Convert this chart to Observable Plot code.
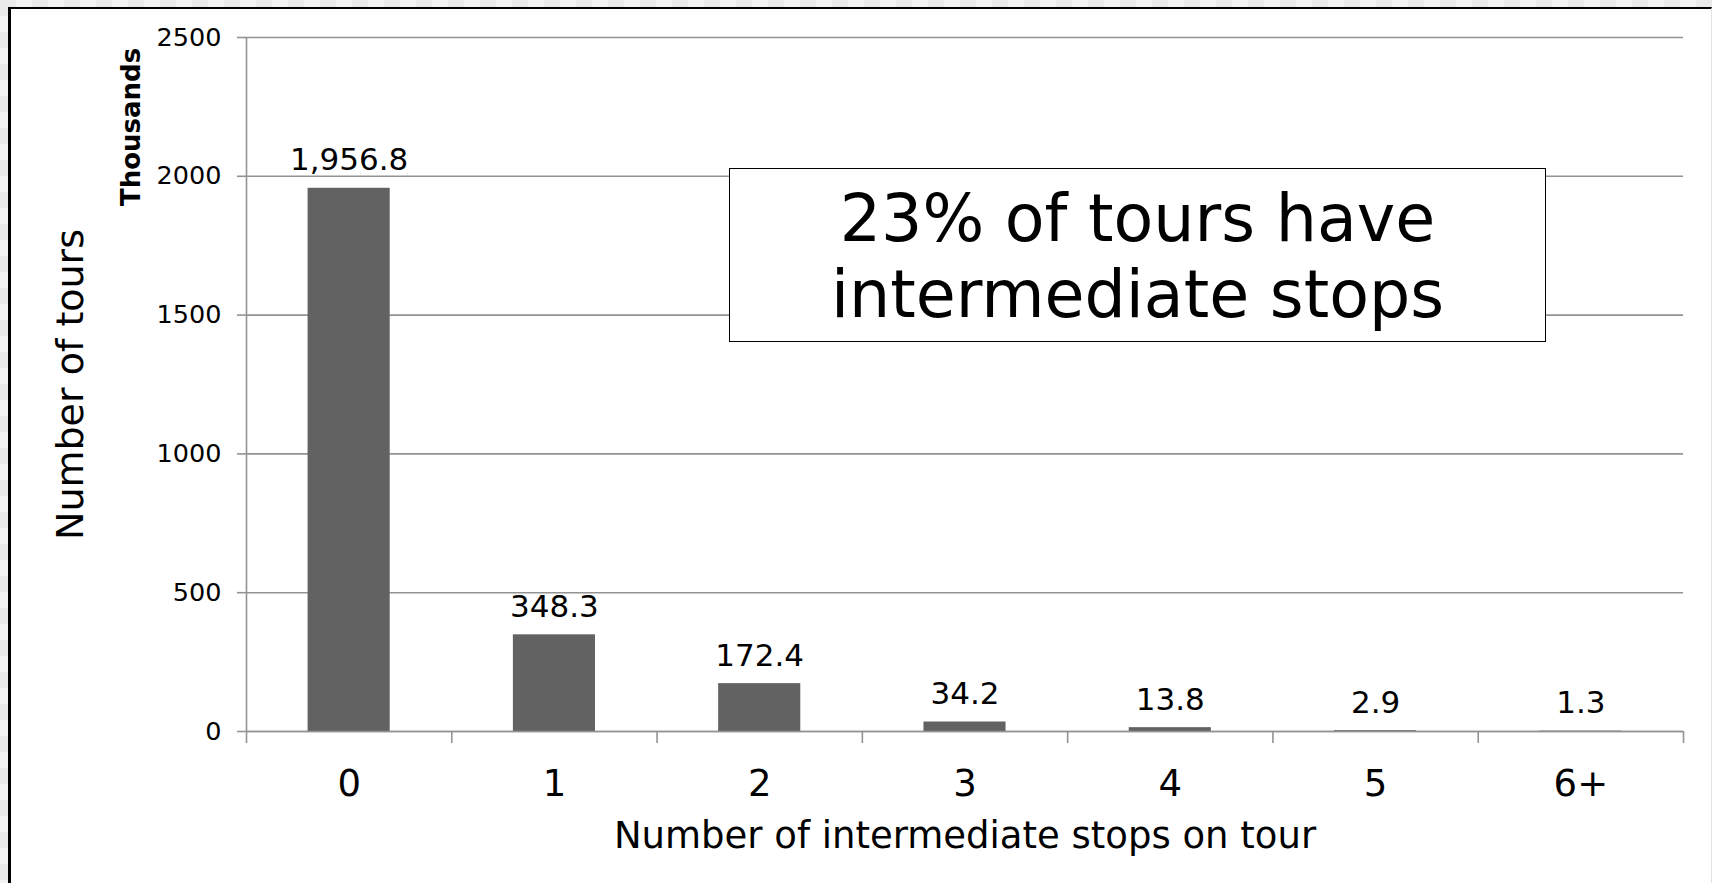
<!DOCTYPE html>
<html><head><meta charset="utf-8">
<script src="https://cdn.jsdelivr.net/npm/d3@7"></script>
<script src="https://cdn.jsdelivr.net/npm/@observablehq/plot@0.6"></script>
<style>
html,body{margin:0;padding:0;width:1712px;height:883px;overflow:hidden;}
body{background-color:#eeeeee;background-image:conic-gradient(#f4f4f4 25%,#eaeaea 0 50%,#f4f4f4 0 75%,#eaeaea 0);background-size:32px 32px;font-family:"DejaVu Sans";}
#panel{position:absolute;left:8px;top:7px;width:1700px;height:900px;background:#fff;border-left:3px solid #000;border-top:2px solid #000;border-right:1px solid #e2e2e2;}
#chart{position:absolute;left:0;top:0;}
#note{position:absolute;left:729px;top:168px;width:817px;height:174px;box-sizing:border-box;border:1.5px solid #000;background:#fff;display:flex;align-items:center;justify-content:center;text-align:center;font-size:65px;line-height:76px;font-family:"DejaVu Sans";color:#000;padding-top:4px;}
</style></head>
<body>
<div id="panel"></div>
<div id="chart"></div>
<div id="note"></div>
<script>
const categories = ["0", "1", "2", "3", "4", "5", "6+"];
const tours = [1956.8, 348.3, 172.4, 34.2, 13.8, 2.9, 1.3];
const yTicks = [0, 500, 1000, 1500, 2000, 2500];
const xTitle = "Number of intermediate stops on tour";
const yTitle = "Number of tours";
const unitsLabel = "Thousands";
const noteLines = ["23% of tours have", "intermediate stops"];

const data = categories.map((c, i) => ({cat: c, i, value: tours[i]}));
const centers = categories.map((c, i) => i + 0.5);
const boundaries = categories.map((c, i) => i).concat([categories.length]);
const grey = "#939393";
const fmt = d3.format(",.1f");

const chart = Plot.plot({
  width: 1712, height: 883,
  marginLeft: 246, marginRight: 29, marginTop: 37, marginBottom: 152,
  style: {background: "transparent", fontFamily: "DejaVu Sans", color: "#000", overflow: "visible"},
  x: {type: "linear", domain: [0, categories.length], axis: null},
  y: {domain: [0, 2500], axis: null},
  marks: [
    Plot.gridY({ticks: yTicks, stroke: grey, strokeOpacity: 1, strokeWidth: 1.6}),
    Plot.axisY({ticks: yTicks, tickSize: 9, tickPadding: 16, fontSize: 25.5, stroke: grey, strokeWidth: 1.6, fill: "#000", label: null, tickFormat: d => String(d)}),
    Plot.axisX({ticks: boundaries, tickSize: 12, tickFormat: () => "", stroke: grey, strokeWidth: 1.6, label: null}),
    Plot.axisX({ticks: centers, tickSize: 0, tickPadding: 38, fontSize: 37, fill: "#000", label: null, tickFormat: d => categories[Math.floor(d)]}),
    Plot.rect(data, {x1: d => d.i + 0.3, x2: d => d.i + 0.7, y1: 0, y2: "value", fill: "#626262"}),
    Plot.ruleY([0], {stroke: grey, strokeWidth: 1.6}),
    Plot.ruleX([0], {stroke: grey, strokeWidth: 1.6}),
    Plot.text(data, {x: d => d.i + 0.5, y: "value", text: d => fmt(d.value), lineAnchor: "bottom", dy: -18, fontSize: 31, fill: "#000"}),
    Plot.text([xTitle], {frameAnchor: "bottom", textAnchor: "middle", lineAnchor: "bottom", dy: 116, fontSize: 37, fill: "#000", text: d => d}),
    Plot.text([yTitle], {frameAnchor: "left", textAnchor: "middle", lineAnchor: "middle", rotate: -90, dx: -176, fontSize: 38, fill: "#000", text: d => d}),
    Plot.text([unitsLabel], {frameAnchor: "top-left", textAnchor: "middle", lineAnchor: "middle", rotate: -90, dx: -115, dy: 89.5, fontSize: 26, fontWeight: "bold", fill: "#000", text: d => d})
  ]
});
document.getElementById("chart").appendChild(chart);
const noteEl = document.getElementById("note");
noteEl.innerHTML = "";
const inner = document.createElement("div");
noteLines.forEach((t, k) => {
  if (k) inner.appendChild(document.createElement("br"));
  inner.appendChild(document.createTextNode(t));
});
noteEl.appendChild(inner);
</script>
</body></html>
